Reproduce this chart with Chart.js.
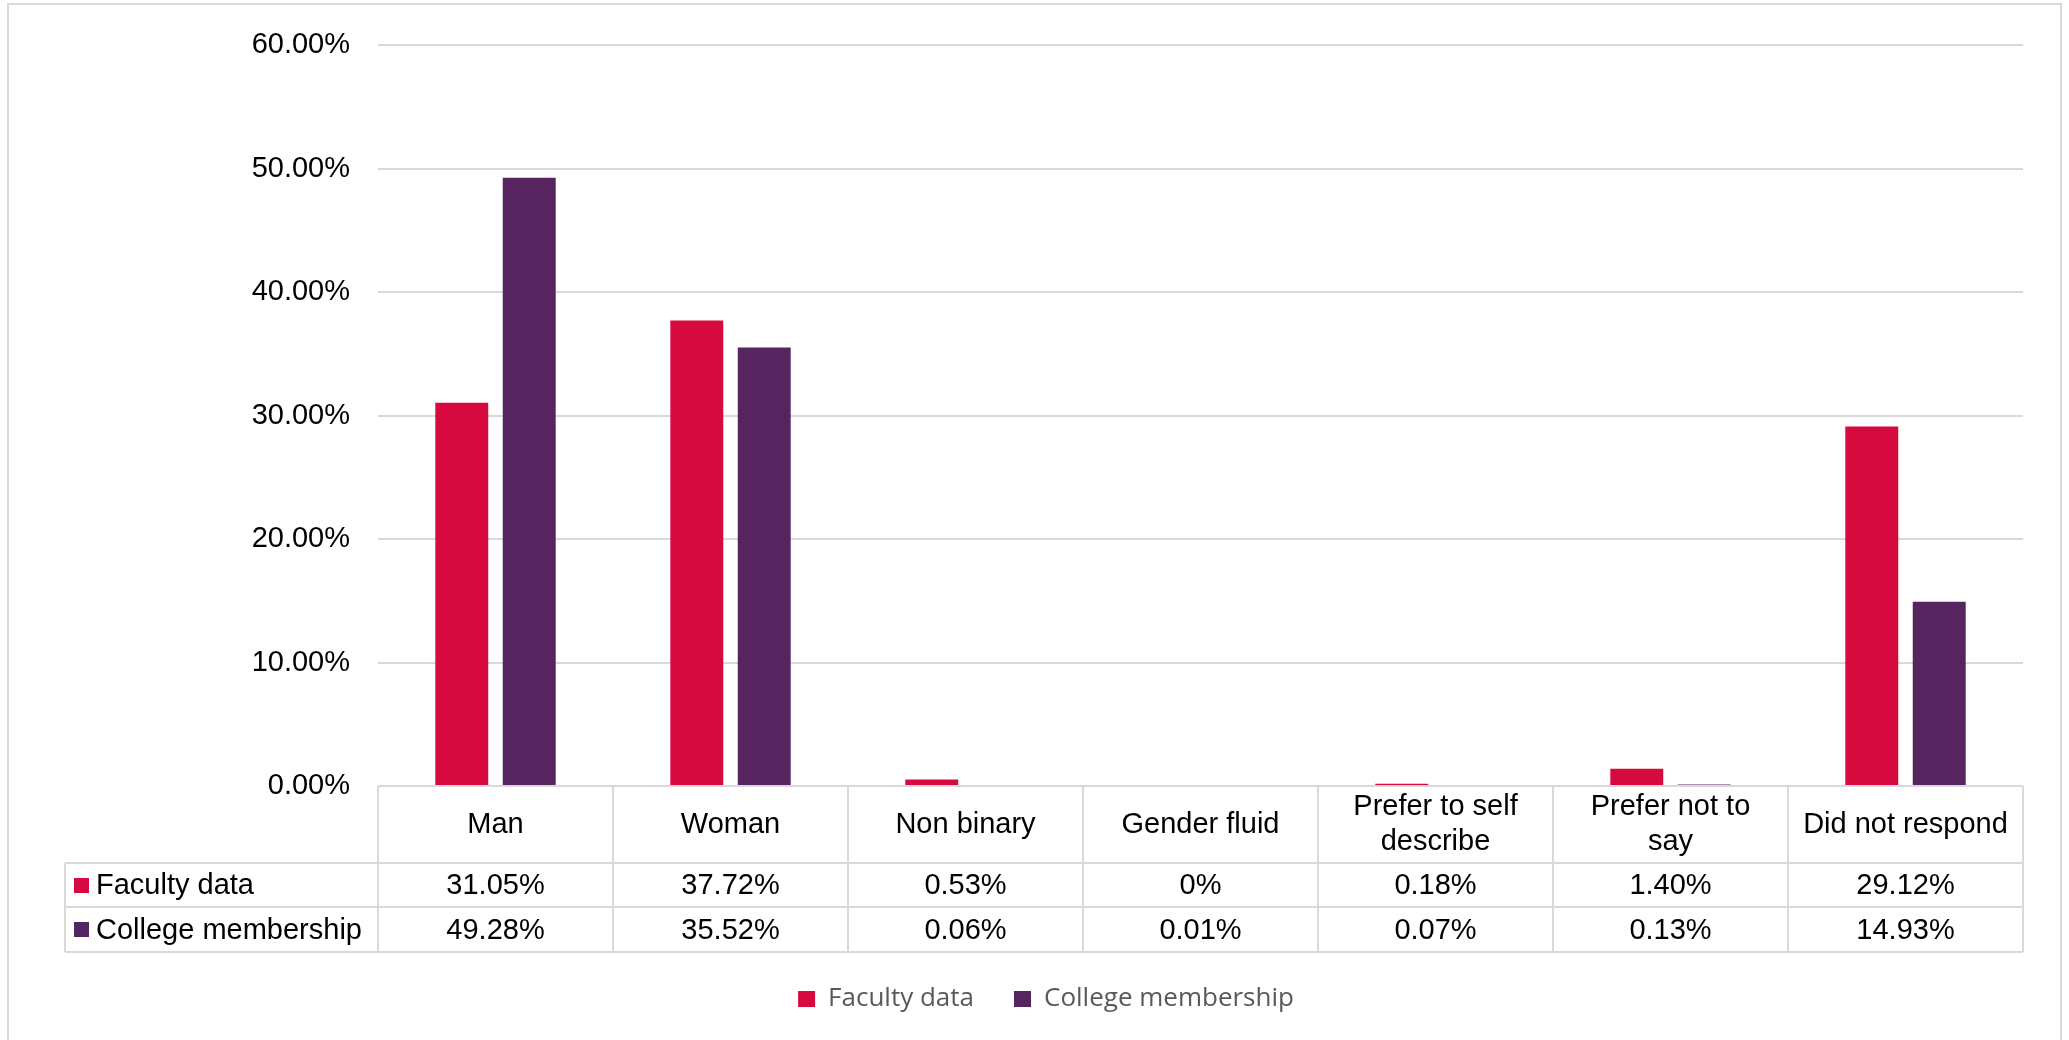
<!DOCTYPE html>
<html>
<head>
<meta charset="utf-8">
<script src="https://cdn.jsdelivr.net/npm/chart.js@4/dist/chart.umd.min.js"></script>
<style>
  html, body { margin: 0; padding: 0; background: #ffffff; }
  #wrap { width: 2069px; height: 1040px; }
</style>
</head>
<body>
<div id="wrap"><canvas id="c" width="2069" height="1040"></canvas></div>
<script>
const categories = ['Man', 'Woman', 'Non binary', 'Gender fluid', ['Prefer to self', 'describe'], ['Prefer not to', 'say'], 'Did not respond'];
const seriesNames = ['Faculty data', 'College membership'];
const facultyData = [31.05, 37.72, 0.53, 0, 0.18, 1.40, 29.12];
const collegeData = [49.28, 35.52, 0.06, 0.01, 0.07, 0.13, 14.93];
const yTicks = [0, 10, 20, 30, 40, 50, 60];

const COLORS = ['#D70A40', '#56245F'];
const GRID = '#d9d9d9';
const FONT = '"Liberation Sans", Arial, sans-serif';
const FSIZE = 29;

function fmtPct(v) { return v === 0 ? '0%' : v.toFixed(2) + '%'; }

const framePlugin = {
  id: 'frame',
  beforeDraw(chart) {
    const ctx = chart.ctx;
    ctx.save();
    ctx.fillStyle = '#ffffff';
    ctx.fillRect(0, 0, chart.width, chart.height);
    ctx.strokeStyle = GRID;
    ctx.lineWidth = 2;
    ctx.beginPath();
    ctx.moveTo(8, chart.height + 2);
    ctx.lineTo(8, 4);
    ctx.lineTo(2061, 4);
    ctx.lineTo(2061, chart.height + 2);
    ctx.stroke();
    ctx.restore();
  }
};

const tablePlugin = {
  id: 'dataTable',
  afterDatasetsDraw(chart) {
    const ctx = chart.ctx;
    const area = chart.chartArea;
    const xs = chart.scales.x;
    const n = categories.length;
    const colW = (area.right - area.left) / n;
    const top = area.bottom;
    const catBottom = top + 77;
    const r1Bottom = catBottom + 44;
    const r2Bottom = r1Bottom + 45;
    const tableLeft = 65;
    ctx.save();
    ctx.strokeStyle = GRID;
    ctx.lineWidth = 2;
    ctx.beginPath();
    ctx.moveTo(area.left, top); ctx.lineTo(area.right, top);
    [catBottom, r1Bottom, r2Bottom].forEach(y => { ctx.moveTo(tableLeft, y); ctx.lineTo(area.right, y); });
    ctx.moveTo(tableLeft, catBottom); ctx.lineTo(tableLeft, r2Bottom);
    for (let k = 0; k <= n; k++) {
      const x = k < n ? xs.getPixelForValue(k) - colW / 2 : xs.getPixelForValue(n - 1) + colW / 2;
      ctx.moveTo(x, top); ctx.lineTo(x, r2Bottom);
    }
    ctx.stroke();

    ctx.fillStyle = '#000000';
    ctx.font = FSIZE + 'px ' + FONT;
    ctx.textBaseline = 'middle';
    ctx.textAlign = 'center';
    const catMid = (top + catBottom) / 2;
    categories.forEach((c, i) => {
      const x = xs.getPixelForValue(i);
      const lines = Array.isArray(c) ? c : [c];
      const lh = 35;
      lines.forEach((ln, j) => {
        ctx.fillText(ln, x, catMid + (j - (lines.length - 1) / 2) * lh);
      });
    });
    const rows = [[facultyData, (catBottom + r1Bottom) / 2], [collegeData, (r1Bottom + r2Bottom) / 2]];
    rows.forEach(([vals, y], r) => {
      ctx.textAlign = 'center';
      ctx.fillStyle = '#000000';
      vals.forEach((v, i) => ctx.fillText(fmtPct(v), xs.getPixelForValue(i), y + 1));
      ctx.fillStyle = COLORS[r];
      ctx.fillRect(74, Math.round(y - 7.5), 15, 15);
      ctx.fillStyle = '#000000';
      ctx.textAlign = 'left';
      ctx.fillText(seriesNames[r], 96, y + 1);
    });
    ctx.restore();
  }
};

new Chart(document.getElementById('c'), {
  type: 'bar',
  data: {
    labels: categories,
    datasets: [
      { label: seriesNames[0], data: facultyData, backgroundColor: COLORS[0], borderWidth: 0,
        categoryPercentage: 0.574, barPercentage: 0.785 },
      { label: seriesNames[1], data: collegeData, backgroundColor: COLORS[1], borderWidth: 0,
        categoryPercentage: 0.574, barPercentage: 0.785 }
    ]
  },
  options: {
    responsive: false,
    devicePixelRatio: 1,
    animation: false,
    layout: { padding: { left: 69, right: 46, top: 41, bottom: 18 } },
    plugins: {
      tooltip: { enabled: false },
      legend: {
        position: 'bottom',
        labels: {
          font: { family: '"Open Sans", "Noto Sans", sans-serif', size: 26 },
          color: '#595959',
          boxWidth: 17,
          boxHeight: 16,
          padding: 40
        }
      }
    },
    scales: {
      x: {
        display: true,
        grid: { display: false, drawTicks: false },
        border: { display: false },
        ticks: { display: false },
        afterFit(s) { s.height = 160; }
      },
      y: {
        min: yTicks[0],
        max: yTicks[yTicks.length - 1],
        afterBuildTicks(s) { s.ticks = yTicks.map(v => ({ value: v })); },
        afterFit(s) { s.width = 309; },
        grid: { color: GRID, lineWidth: 2, drawTicks: false },
        border: { display: false },
        ticks: {
          padding: 28,
          color: '#000000',
          font: { family: FONT, size: FSIZE },
          callback: v => v.toFixed(2) + '%'
        }
      }
    }
  },
  plugins: [framePlugin, tablePlugin]
});
</script>
</body>
</html>
